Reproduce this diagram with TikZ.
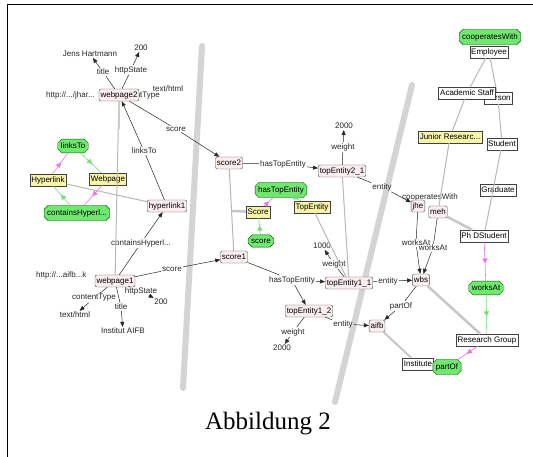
\documentclass[tikz,border=0pt]{standalone}
\usepackage{fontspec}
\setmainfont{Liberation Serif}
\newfontfamily\lblfont{Liberation Sans}
\usepackage{xcolor}
\definecolor{instfill}{HTML}{FCEEEE}
\definecolor{clsfill}{HTML}{F8F4A8}
\definecolor{propfill}{HTML}{70E870}
\definecolor{domline}{HTML}{F070F0}
\definecolor{rngline}{HTML}{70E070}
\usetikzlibrary{arrows.meta,shapes.misc,decorations.markings}
\newcommand{\lbl}{\lblfont\fontsize{8}{9}\selectfont}
\tikzset{
  inst/.style  = {rectangle, rounded corners=2pt, draw=black!70,
                  fill=instfill, inner sep=1.5pt, minimum height=12pt, font=\lbl},
  cls/.style   = {rectangle, draw=black!75, fill=clsfill,
                  inner sep=1.5pt, minimum height=12pt, font=\lbl},
  wcls/.style  = {rectangle, draw=black!75, fill=white,
                  inner sep=1.5pt, minimum height=12pt, font=\lbl},
  prop/.style  = {chamfered rectangle, chamfered rectangle xsep=1.5pt,
                  chamfered rectangle ysep=2.5pt,
                  draw=green!35!black, fill=propfill, inner sep=1.5pt,
                  minimum height=11pt, font=\lbl},
  lit/.style   = {inner sep=1pt, font=\lbl, text=black!85},
  elabel/.style= {inner sep=1pt, font=\lbl, text=black!85},
  edge/.style  = {-{Triangle[length=5pt,width=4pt]}, draw=black!85, line width=0.5pt},
  tree/.style  = {draw=black!28, line width=1pt},
  arc/.style   = {draw=black!17, line width=6pt, line cap=round},
  domarr/.style= {draw=domline, line width=0.6pt, postaction={decorate},
                  decoration={markings, mark=at position 0.55 with
                  {\arrow{Triangle[length=5pt,width=5pt]}}}},
  rngarr/.style= {draw=rngline, line width=0.6pt, postaction={decorate},
                  decoration={markings, mark=at position 0.55 with
                  {\arrow{Triangle[length=5pt,width=5pt]}}}}
}

\begin{document}
\begin{tikzpicture}[x=1pt, y=-1pt]
  \fill[white] (0,0) rectangle (533,457);
  \useasboundingbox (0,0) rectangle (533,457);
  \draw[line width=1pt] (7,457) -- (7,5) -- (533,5);

  % hyperbolic arcs
  \draw[arc] (202,46) -- (183,388);
  \draw[arc] (412,85) -- (335,402);

  % hidden labels and literals under the nodes
  \node[lit, anchor=west] (url2) at (45,95) {http://.../jhar...};
  \node[elabel] (lType2) at (138,96) {contentType};
  \node[lit] (html2) at (168,89) {text/html};
  \node[lit, anchor=west] (url1) at (35,275) {http://...aifb...k};
  \node[elabel] (lCoop) at (430,197) {cooperatesWith};

  % instances
  \node[inst] (wp2)  at (119,95)  {webpage2};
  \node[inst] (hl1)  at (167,206) {hyperlink1};
  \node[inst] (wp1)  at (115,281) {webpage1};
  \node[inst] (sc2)  at (229,163) {score2};
  \node[inst] (sc1)  at (234,257) {score1};
  \node[inst] (te21) at (342,171) {topEntity2\_1};
  \node[inst] (te11) at (349,283) {topEntity1\_1};
  \node[inst] (te12) at (309,311) {topEntity1\_2};
  \node[inst] (aifb) at (377,326) {aifb};
  \node[inst] (wbs)  at (421,280) {wbs};

  % literals
  \node[lit] (jens)  at (90,54)   {Jens Hartmann};
  \node[lit] (s200a) at (141,48)  {200};
  \node[lit] (html1) at (75,315)  {text/html};
  \node[lit] (s200b) at (161,302) {200};
  \node[lit] (inst1) at (123,331) {Institut AIFB};
  \node[lit] (w2000a) at (344,126) {2000};
  \node[lit] (w1000) at (322,246) {1000};
  \node[lit] (w2000b) at (282,348) {2000};

  % edge labels
  \node[elabel] (lTitle2) at (103,72)  {title};
  \node[elabel] (lState2) at (131,70)  {httpState};
  \node[elabel] (lScore2) at (176,129) {score};
  \node[elabel] (lLinks)  at (144,151) {linksTo};
  \node[elabel] (lContains) at (141,243) {containsHyperl...};
  \node[elabel] (lScore1) at (172,269) {score};
  \node[elabel] (lType1)  at (94,298)  {contentType};
  \node[elabel] (lState1) at (141,291) {httpState};
  \node[elabel] (lTitle1) at (121,307) {title};
  \node[elabel] (lHte2)   at (283,164) {hasTopEntity};
  \node[elabel] (lW2)     at (343,147) {weight};
  \node[elabel] (lEnt2)   at (382,187) {entity};
  \node[elabel] (lWorks1) at (416,243) {worksAt};
  \node[elabel] (lWorks2) at (433,248) {worksAt};
  \node[elabel] (lW11)    at (334,264) {weight};
  \node[elabel] (lHte1)   at (292,280) {hasTopEntity};
  \node[elabel] (lEnt11)  at (388,281) {entity};
  \node[elabel] (lEnt12)  at (343,324) {entity};
  \node[elabel] (lW12)    at (293,332) {weight};
  \node[elabel] (lPart)   at (401,306) {partOf};

  % classes
  \node[cls]  (cHyperlink) at (48,180)  {Hyperlink};
  \node[cls]  (cWebpage)   at (108,179) {Webpage};
  \node[cls]  (cScore)     at (258,212) {Score};
  \node[cls]  (cTopEntity) at (312,207) {TopEntity};
  \node[wcls] (cPerson)    at (498,98)  {Person};
  \node[wcls] (cEmployee)  at (489,52)  {Employee};
  \node[wcls] (cStudent)   at (502,144) {Student};
  \node[wcls] (cGraduate)  at (498,190) {Graduate};
  \node[wcls] (cPhD)       at (484,236) {Ph DStudent};
  \node[wcls] (cResearch)  at (487,340) {Research Group};
  \node[wcls] (cInstitute) at (418,364) {Institute};
  \coordinate (sjoin) at (232,211);

  % gray tree links
  \draw[tree] (wp2) -- (wp1);
  \draw[tree, line width=2.5pt, draw=black!20] (wp2.south) -- ++(0,28);
  \draw[tree] (cHyperlink) -- (hl1);
  \draw[tree] (sc2) -- (sc1);
  \draw[tree, line width=2.5pt, draw=black!22] (sjoin) -- (cScore);
  \draw[tree] (te21) -- (te11);
  \draw[tree] (cTopEntity) -- (te11);
  \draw[tree] (cEmployee) -- (cPerson) -- (cStudent) -- (cPhD);
  \draw[tree, line width=2.5pt, draw=black!22] (wbs) -- (cResearch);
  \draw[tree, line width=2pt, draw=black!22] (aifb) -- (cInstitute);

  % nodes drawn over the tree links
  \node[cls]  (cJunior)   at (450,137) {Junior Researc...};
  \node[wcls] (cAcademic) at (467,93)  {Academic Staff};
  \node[inst] (jhe) at (418,206) {jhe};
  \node[inst] (meh) at (438,212) {meh};
  \node[prop] (pCoop)     at (490,37)  {cooperatesWith};
  \node[prop] (pLinksTo)  at (73,146)  {linksTo};
  \node[prop] (pContains) at (77,213)  {containsHyperl...};
  \node[prop] (pHasTop)   at (281,190) {hasTopEntity};
  \node[prop] (pScore)    at (261,241) {score};
  \node[prop] (pWorksAt)  at (486,288) {worksAt};
  \node[prop] (pPartOf)   at (447,367) {partOf};

  \draw[tree] (cEmployee) -- (cAcademic) -- (cJunior) -- (meh);
  \draw[tree, line width=2.5pt, draw=black!22] (meh) -- (cPhD);

  % domain and range links
  \draw[domarr] (cHyperlink) -- (pLinksTo);
  \draw[rngarr] (pLinksTo) -- (cWebpage);
  \draw[domarr] (cWebpage) -- (pContains);
  \draw[rngarr] (pContains) -- (cHyperlink);
  \draw[domarr] (cScore) -- (pHasTop);
  \draw[rngarr] (pHasTop) -- (cTopEntity);
  \draw[rngarr] (pScore) -- (cScore);
  \draw[domarr] (cPhD) -- (pWorksAt);
  \draw[rngarr] (pWorksAt) -- (cResearch);
  \draw[domarr] (cResearch) -- (pPartOf);

  % statements
  \draw[edge] (wp2) -- (lTitle2) -- (jens);
  \draw[edge] (wp2) -- (lState2) -- (s200a);
  \draw[edge] (wp2) -- (lScore2) -- (sc2);
  \draw[edge] (hl1) -- (lLinks) -- (wp2);
  \draw[edge] (wp1) -- (lContains) -- (hl1);
  \draw[edge] (wp1) -- (lScore1) -- (sc1);
  \draw[edge] (wp1) -- (lType1) -- (html1);
  \draw[edge] (wp1) -- (lState1) -- (s200b);
  \draw[edge] (wp1) -- (lTitle1) -- (inst1);
  \draw[edge] (sc2) -- (lHte2) -- (te21);
  \draw[edge] (te21) -- (lW2) -- (w2000a);
  \draw[edge] (te21) -- (lEnt2) -- (jhe);
  \draw[edge] (jhe) -- (lWorks1) -- (wbs);
  \draw[edge] (meh) -- (lWorks2) -- (wbs);
  \draw[edge] (te11) -- (lW11) -- (w1000);
  \draw[edge] (sc1) -- (lHte1) -- (te11);
  \draw[edge] (lHte1) -- (te12);
  \draw[edge] (te11) -- (lEnt11) -- (wbs);
  \draw[edge] (te12) -- (lW12) -- (w2000b);
  \draw[edge] (te12) -- (lEnt12) -- (aifb);
  \draw[edge] (wbs) -- (lPart) -- (aifb);

  \node (caption) at (268,424) {\fontsize{25}{28}\selectfont Abbildung 2};
\end{tikzpicture}
\end{document}
